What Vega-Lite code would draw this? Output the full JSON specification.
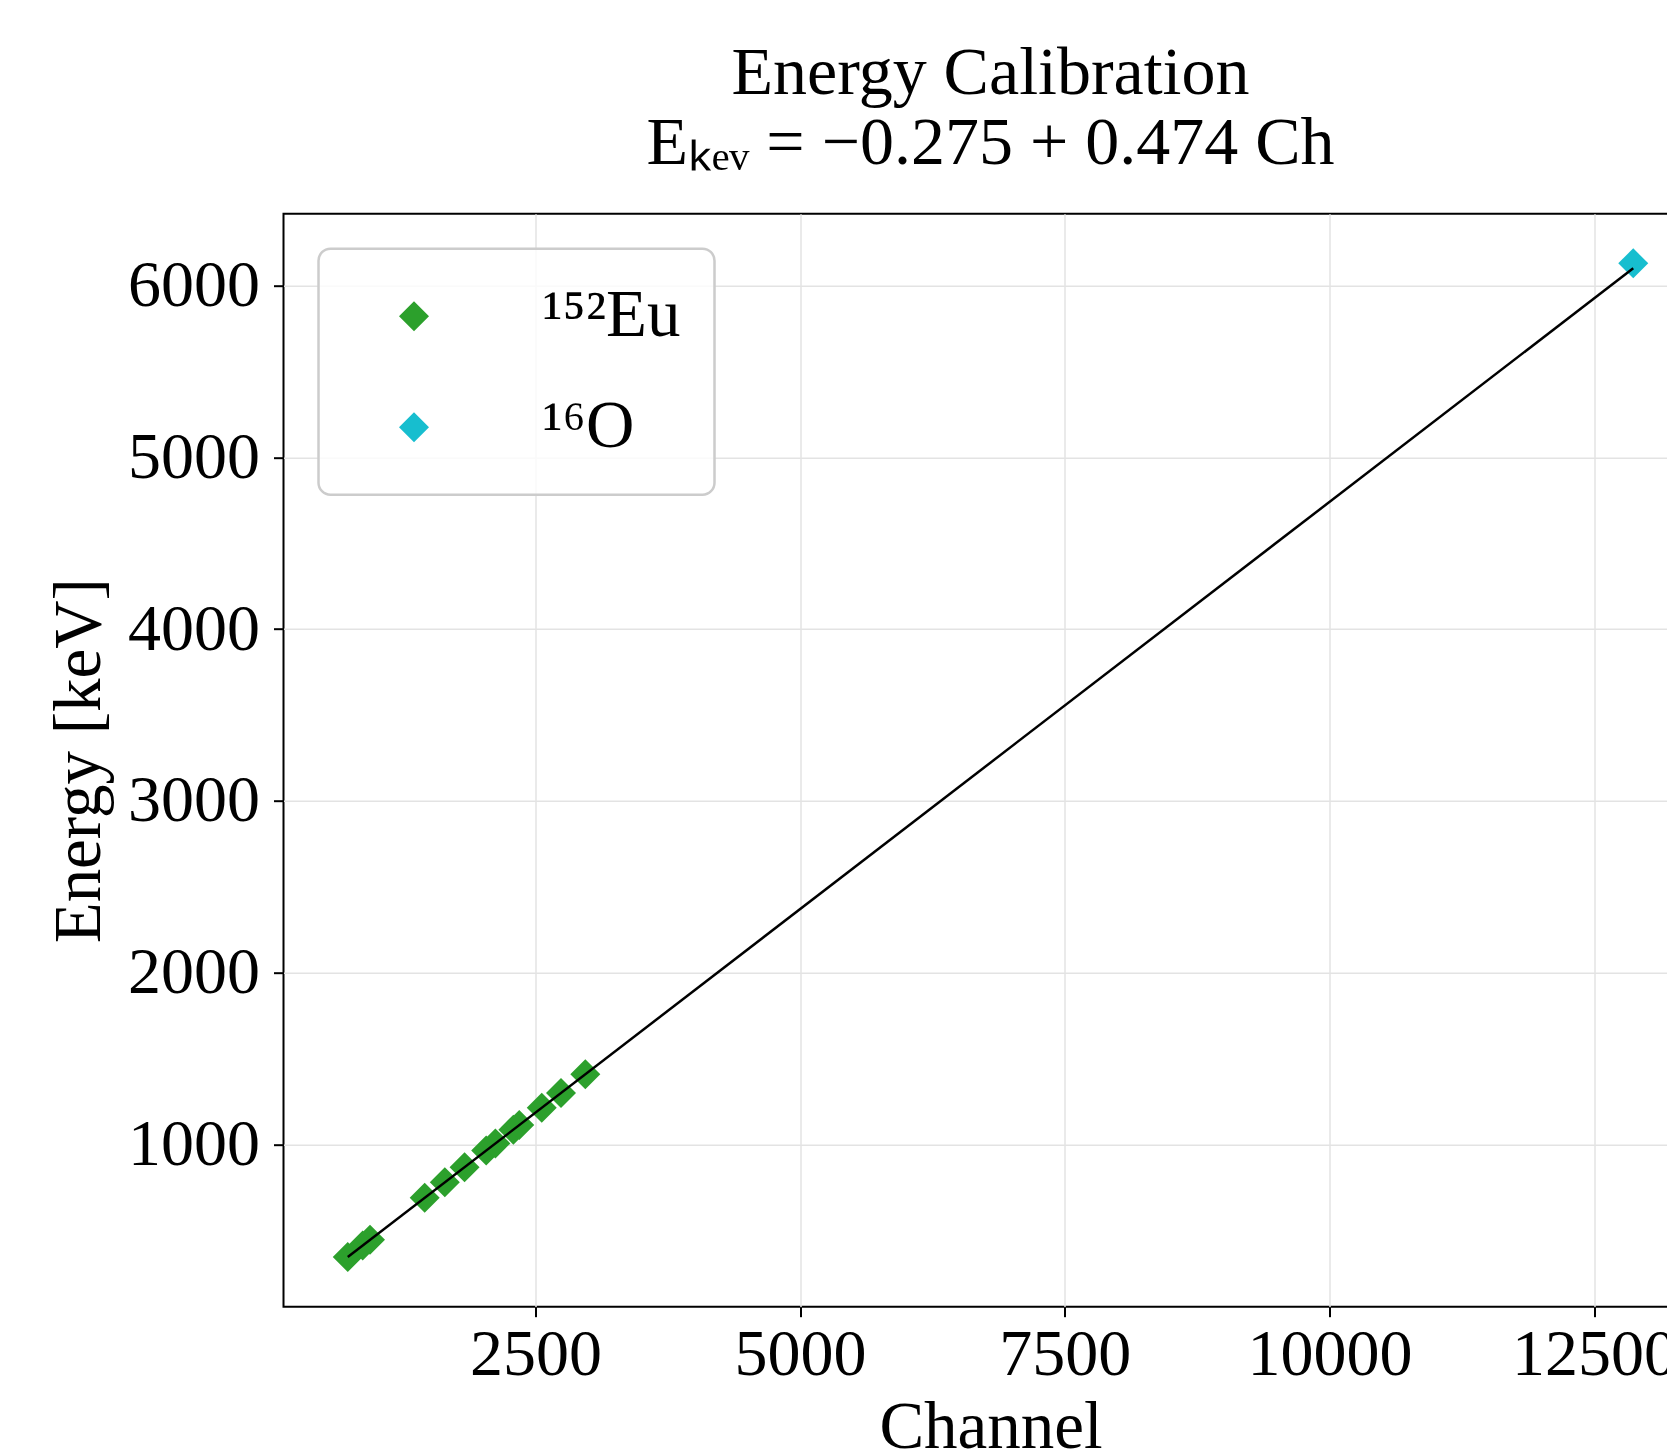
{
  "$schema": "https://vega.github.io/schema/vega-lite/v6.json",
  "autosize": "none",
  "padding": {"left": 283.5, "top": 213.7, "right": 10, "bottom": 150},
  "width": 1414,
  "height": 1093,
  "background": "white",
  "title": {
    "text": "Energy Calibration",
    "subtitle": "Eₖₑᵥ = −0.275 + 0.474 Ch",
    "font": "Liberation Serif",
    "subtitleFont": "Liberation Serif",
    "fontSize": 68,
    "subtitleFontSize": 68,
    "fontWeight": "normal",
    "subtitleFontWeight": "normal",
    "color": "black",
    "subtitleColor": "black",
    "anchor": "middle",
    "frame": "group",
    "offset": 36,
    "subtitlePadding": 2
  },
  "datasets": {
    "points": [
      {"Source": "¹⁵²Eu", "Ch": 726.9, "E": 344.3},
      {"Source": "¹⁵²Eu", "Ch": 867.9, "E": 411.1},
      {"Source": "¹⁵²Eu", "Ch": 937.2, "E": 444.0},
      {"Source": "¹⁵²Eu", "Ch": 1453.5, "E": 688.7},
      {"Source": "¹⁵²Eu", "Ch": 1643.8, "E": 778.9},
      {"Source": "¹⁵²Eu", "Ch": 1830.5, "E": 867.4},
      {"Source": "¹⁵²Eu", "Ch": 2034.5, "E": 964.1},
      {"Source": "¹⁵²Eu", "Ch": 2121.4, "E": 1005.3},
      {"Source": "¹⁵²Eu", "Ch": 2291.4, "E": 1085.8},
      {"Source": "¹⁵²Eu", "Ch": 2346.7, "E": 1112.1},
      {"Source": "¹⁵²Eu", "Ch": 2559.6, "E": 1213.0},
      {"Source": "¹⁵²Eu", "Ch": 2741.4, "E": 1299.1},
      {"Source": "¹⁵²Eu", "Ch": 2971.1, "E": 1408.0},
      {"Source": "¹⁶O", "Ch": 12870, "E": 6129}
    ],
    "fit": [
      {"Ch": 726.9, "E": 344.3},
      {"Ch": 12870, "E": 6100.1}
    ]
  },
  "layer": [
    {
      "data": {"name": "points"},
      "mark": {"type": "point", "shape": "diamond", "filled": true, "size": 900, "opacity": 1},
      "encoding": {
        "x": {"field": "Ch", "type": "quantitative", "scale": {"domain": [120, 13477], "nice": false, "zero": false},
              "axis": {"values": [2500, 5000, 7500, 10000, 12500], "format": "d", "title": "Channel", "labelPadding": 6, "titlePadding": 7}},
        "y": {"field": "E", "type": "quantitative", "scale": {"domain": [55, 6418], "nice": false, "zero": false},
              "axis": {"values": [1000, 2000, 3000, 4000, 5000, 6000], "format": "d", "title": "Energy [keV]", "labelPadding": 14, "titlePadding": 14}},
        "color": {
          "field": "Source",
          "type": "nominal",
          "scale": {"domain": ["¹⁵²Eu", "¹⁶O"], "range": ["#2ca02c", "#17becf"]},
          "legend": {"title": null}
        }
      }
    },
    {
      "data": {"name": "fit"},
      "mark": {"type": "line", "color": "black", "strokeWidth": 2.5},
      "encoding": {
        "x": {"field": "Ch", "type": "quantitative"},
        "y": {"field": "E", "type": "quantitative"}
      }
    }
  ],
  "config": {
    "font": "Liberation Serif",
    "view": {"stroke": "black", "strokeWidth": 2},
    "axis": {
      "domain": false,
      "grid": true,
      "gridColor": "#e3e3e3",
      "gridWidth": 1.5,
      "tickColor": "black",
      "tickSize": 10,
      "tickWidth": 2,
      "labelFont": "Liberation Serif",
      "labelFontSize": 66,
      "labelColor": "black",
      "labelFlush": false,
      "labelOverlap": false,
      "titleFont": "Liberation Serif",
      "titleFontSize": 67,
      "titleFontWeight": "normal",
      "titleColor": "black"
    },
    "legend": {
      "orient": "top-left",
      "offset": 35,
      "padding": 34,
      "strokeColor": "#cccccc",
      "strokeWidth": 2.5,
      "fillColor": "rgba(255,255,255,0.8)",
      "cornerRadius": 12,
      "symbolType": "diamond",
      "symbolSize": 900,
      "symbolOffset": 28,
      "labelOffset": 95,
      "labelFont": "Liberation Serif",
      "labelFontSize": 67,
      "labelColor": "black",
      "rowPadding": 43,
      "labelLimit": 400
    }
  }
}
